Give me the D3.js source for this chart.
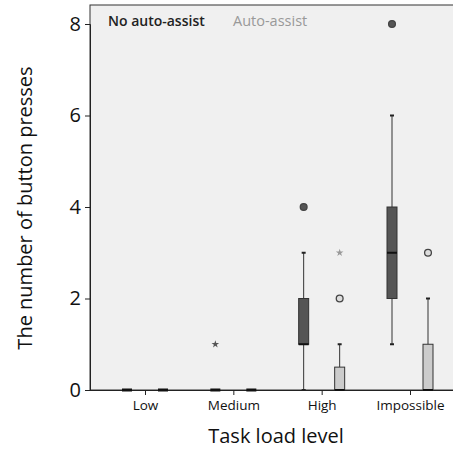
<!DOCTYPE html>
<html>
<head>
<meta charset="utf-8">
<script src="https://cdn.jsdelivr.net/npm/d3@7"></script>
<style>
  body { margin: 0; background: #fff; }
  text { font-family: "Open Sans", Lato, sans-serif; }
</style>
</head>
<body>
<div id="chart"></div>
<script>
// data
const levels = ["Low", "Medium", "High", "Impossible"];
const groups = ["No auto-assist", "Auto-assist"];
// [whiskerLow, q1, median, q3, whiskerHigh] per level
const noAssistBoxes = [[0, 0, 0, 0, 0], [0, 0, 0, 0, 0], [0, 1, 1, 2, 3], [1, 2, 3, 4, 6]];
const assistBoxes = [[0, 0, 0, 0, 0], [0, 0, 0, 0, 0], [0, 0, 0, 0.5, 1], [0, 0, 0, 1, 2]];
// outliers: level, value, kind
const noAssistOutliers = [["Medium", 1, "star"], ["High", 4, "circle"], ["Impossible", 8, "circle"]];
const assistOutliers = [["High", 2, "circle"], ["High", 3, "star"], ["Impossible", 3, "circle"]];
const yTicks = [0, 2, 4, 6, 8];

const W = 453, H = 449;
const margin = { top: 5, left: 90, bottom: 59 };
const plotBottom = H - margin.bottom;

const svg = d3.select("#chart").append("svg")
    .attr("width", W).attr("height", H);

const x = d3.scalePoint().domain(levels).range([145, 410]);
const y = d3.scaleLinear().domain([0, 8]).range([plotBottom, 24]);
const offset = { "No auto-assist": -18, "Auto-assist": 18 };
const fill = { "No auto-assist": "#555555", "Auto-assist": "#cccccc" };
const boxW = 10;

svg.append("rect")
    .attr("x", margin.left).attr("y", margin.top)
    .attr("width", W - margin.left + 5).attr("height", plotBottom - margin.top)
    .attr("fill", "#f0f0f0").attr("stroke", "#333").attr("stroke-width", 1);

// axes
svg.append("g")
    .attr("transform", `translate(${margin.left},0)`)
    .call(d3.axisLeft(y).tickValues(yTicks).tickSize(5).tickPadding(4))
    .call(g => g.select(".domain").attr("stroke", "#222"))
    .call(g => g.selectAll("line").attr("stroke", "#222"))
    .call(g => g.selectAll("text").attr("font-size", 20).attr("fill", "#111"));

svg.append("g")
    .attr("transform", `translate(0,${plotBottom})`)
    .call(d3.axisBottom(x).tickSize(5).tickPadding(5).tickSizeOuter(0))
    .call(g => g.select(".domain").attr("d", `M${margin.left},0.5H${W}`).attr("stroke", "#222"))
    .call(g => g.selectAll("line").attr("stroke", "#222"))
    .call(g => g.selectAll("text").attr("font-size", 13.5).attr("fill", "#111"));

// boxes
function drawBoxes(group, boxes) {
    const g = svg.append("g");
    boxes.forEach((b, i) => {
        const cx = x(levels[i]) + offset[group];
        const [lo, q1, med, q3, hi] = b;
        if (hi > q3) {
            g.append("line").attr("x1", cx).attr("x2", cx)
                .attr("y1", y(q3)).attr("y2", y(hi)).attr("stroke", "#333");
            g.append("line").attr("x1", cx - 2).attr("x2", cx + 2)
                .attr("y1", y(hi)).attr("y2", y(hi)).attr("stroke", "#222").attr("stroke-width", 2);
        }
        if (lo < q1) {
            g.append("line").attr("x1", cx).attr("x2", cx)
                .attr("y1", y(q1)).attr("y2", y(lo)).attr("stroke", "#333");
            g.append("line").attr("x1", cx - 2).attr("x2", cx + 2)
                .attr("y1", y(lo)).attr("y2", y(lo)).attr("stroke", "#222").attr("stroke-width", 2);
        }
        if (q3 > q1) {
            g.append("rect").attr("x", cx - boxW / 2).attr("y", y(q3))
                .attr("width", boxW).attr("height", y(q1) - y(q3))
                .attr("fill", fill[group]).attr("stroke", "#333");
        }
        g.append("line").attr("x1", cx - boxW / 2).attr("x2", cx + boxW / 2)
            .attr("y1", y(med)).attr("y2", y(med))
            .attr("stroke", "#111").attr("stroke-width", q3 > q1 ? 2 : 3);
    });
}
drawBoxes("No auto-assist", noAssistBoxes);
drawBoxes("Auto-assist", assistBoxes);

function drawOutliers(group, pts) {
    pts.forEach(([lev, v, kind]) => {
        const cx = x(lev) + offset[group];
        if (kind === "circle") {
            svg.append("circle").attr("cx", cx).attr("cy", y(v)).attr("r", 3.4)
                .attr("fill", group === "No auto-assist" ? "#555" : "#ddd")
                .attr("stroke", "#444").attr("stroke-width", 1.3);
        } else {
            svg.append("path").attr("transform", `translate(${cx},${y(v)})`)
                .attr("d", d3.symbol(d3.symbolStar, 18)())
                .attr("fill", group === "No auto-assist" ? "#555" : "#999");
        }
    });
}
drawOutliers("No auto-assist", noAssistOutliers);
drawOutliers("Auto-assist", assistOutliers);

// legend
svg.append("text").attr("x", 108).attr("y", 26).attr("font-size", 14)
    .attr("font-weight", 600).attr("fill", "#222").text(groups[0]);
svg.append("text").attr("x", 233).attr("y", 26).attr("font-size", 14.5)
    .attr("fill", "#999").text(groups[1]);

// axis titles
svg.append("text").attr("x", 276).attr("y", 443).attr("text-anchor", "middle")
    .attr("font-size", 20).attr("fill", "#111").text("Task load level");
svg.append("text").attr("transform", "translate(32,208) rotate(-90)")
    .attr("text-anchor", "middle").attr("font-size", 20).attr("fill", "#111")
    .text("The number of button presses");
</script>
</body>
</html>
